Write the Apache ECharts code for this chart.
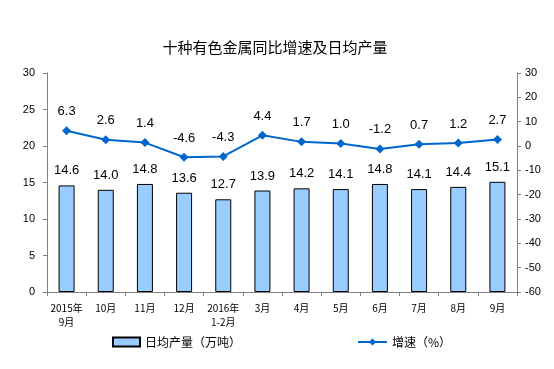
<!DOCTYPE html>
<html><head><meta charset="utf-8">
<script src="https://cdn.jsdelivr.net/npm/echarts@6/dist/echarts.min.js"></script>
<style>html,body{margin:0;padding:0;background:#fff}#c{width:554px;height:369px}</style>
</head><body><div id="c"></div>
<script>
const categories = ['2015年\n9月','10月','11月','12月','2016年\n1-2月','3月','4月','5月','6月','7月','8月','9月'];
const output = [14.6,14.0,14.8,13.6,12.7,13.9,14.2,14.1,14.8,14.1,14.4,15.1];
const growth = [6.3,2.6,1.4,-4.6,-4.3,4.4,1.7,1.0,-1.2,0.7,1.2,2.7];
const leftTicks = {min:0,max:30,interval:5};
const rightTicks = {min:-60,max:30,interval:10};

const font = '"Liberation Sans", Arial, "Noto Sans CJK SC", sans-serif';
const cjk = '"Noto Sans CJK SC", sans-serif';
const chart = echarts.init(document.getElementById('c'), null, {renderer:'canvas'});
const legendText = {fontSize:12,color:'#000',fontFamily:cjk};
chart.setOption({
  animation:false,
  backgroundColor:'#fff',
  title:{text:'十种有色金属同比增速及日均产量',left:270,textAlign:'center',top:35,
    textStyle:{fontSize:15,fontWeight:'normal',color:'#000',fontFamily:cjk}},
  grid:{left:47,right:37,top:73,bottom:77},
  legend:[
    {top:331,left:107,itemWidth:27,itemHeight:9,itemGap:5,textStyle:legendText,
      data:[{name:'日均产量（万吨）',icon:'rect'}]},
    {top:331,left:352,itemWidth:29,itemHeight:9,textStyle:legendText,
      data:[{name:'增速（%）'}]}
  ],
  xAxis:{type:'category',data:categories,
    axisLine:{lineStyle:{color:'#808080',width:1}},
    axisTick:{show:true,alignWithLabel:false,length:4,lineStyle:{color:'#808080'}},
    axisLabel:{fontSize:10,color:'#000',interval:0,margin:9,lineHeight:14,fontFamily:cjk}},
  yAxis:[
    {type:'value',min:leftTicks.min,max:leftTicks.max,interval:leftTicks.interval,
      axisLine:{show:true,lineStyle:{color:'#808080'}},
      axisTick:{show:true,length:4,lineStyle:{color:'#808080'}},
      splitLine:{show:false},
      axisLabel:{fontSize:11,color:'#000',margin:12,fontFamily:font}},
    {type:'value',min:rightTicks.min,max:rightTicks.max,interval:rightTicks.interval,
      axisLine:{show:true,lineStyle:{color:'#808080'}},
      axisTick:{show:true,length:4,lineStyle:{color:'#808080'}},
      splitLine:{show:false},
      axisLabel:{fontSize:11,color:'#000',margin:8,fontFamily:font}}
  ],
  series:[
    {name:'日均产量（万吨）',type:'bar',data:output,yAxisIndex:0,barWidth:16,
      itemStyle:{color:'#99CCFF',borderColor:'#000',borderWidth:1},
      label:{show:true,position:'top',distance:8,fontSize:13,color:'#000',fontFamily:font,
        formatter:p=>p.value.toFixed(1)}},
    {name:'增速（%）',type:'line',data:growth,yAxisIndex:1,
      symbol:'diamond',symbolSize:9,
      lineStyle:{color:'#0066CC',width:2},itemStyle:{color:'#0066CC'},
      label:{show:true,position:'top',distance:8,fontSize:13,color:'#000',fontFamily:font,
        formatter:p=>p.value.toFixed(1)}}
  ]
});
</script></body></html>
